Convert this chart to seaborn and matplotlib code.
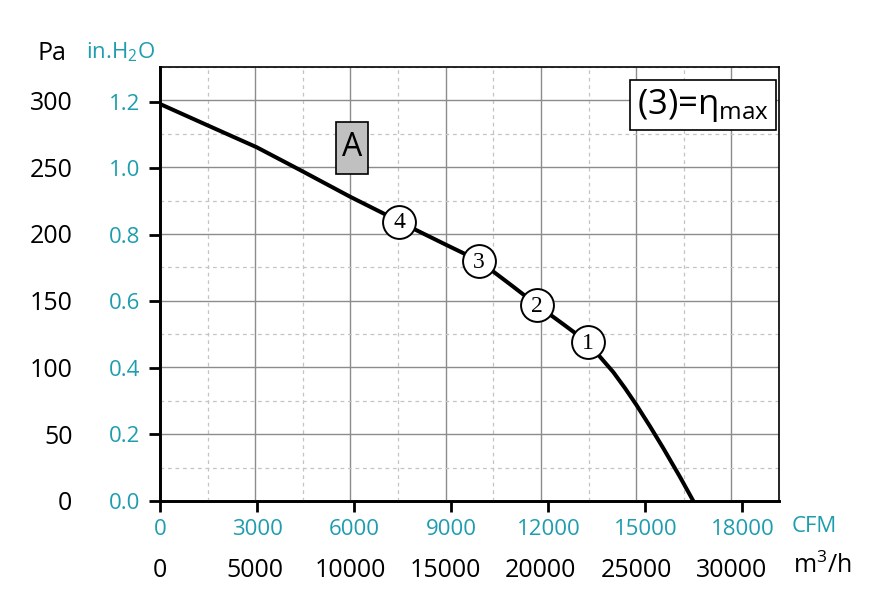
import numpy as np
import pandas as pd
import matplotlib
matplotlib.use("Agg")
import matplotlib.pyplot as plt
import seaborn as sns
from matplotlib.ticker import MultipleLocator
from matplotlib.patches import Rectangle

# ---- data ----
flow_m3h = [0, 2452, 5077, 7350, 9976, 11724, 12550, 15000, 16750, 18500, 19790,
            21200, 22456, 22929, 23800, 24414, 25029, 25727, 26426, 27302, 28000]
pressure_pa = [297.3, 281.6, 264.9, 247.9, 227.9, 215.4, 209.2, 192.0, 179.9, 161.0, 146.8,
               132.1, 118.8, 110.8, 96.5, 84.5, 71.6, 55.9, 39.5, 18.0, 0.0]

op_flow = [22456, 19790, 16750, 12550]
op_pa = [118.8, 146.8, 179.9, 209.2]
op_labels = ["1", "2", "3", "4"]

m3h_ticks = [0, 5000, 10000, 15000, 20000, 25000, 30000]
pa_ticks = [0, 50, 100, 150, 200, 250, 300]
cfm_ticks = [0, 3000, 6000, 9000, 12000, 15000, 18000]
inh2o_ticks = [0.0, 0.2, 0.4, 0.6, 0.8, 1.0, 1.2]

M3H_PER_CFM = 1.699
PA_PER_INH2O = 249.089
TEAL = "#1E9DAF"

sns.set_theme(style="white")
plt.rcParams["font.family"] = ["Open Sans", "DejaVu Sans"]
plt.rcParams["mathtext.fontset"] = "custom"
plt.rcParams["mathtext.rm"] = "Open Sans"
plt.rcParams["mathtext.it"] = "Open Sans:italic"
plt.rcParams["mathtext.bf"] = "Open Sans:bold"

fig = plt.figure(figsize=(8.95, 5.99), dpi=100)
ax = fig.add_axes([160/895, 98/599, 619/895, 434/599])

df = pd.DataFrame({"flow": flow_m3h, "pa": pressure_pa})
sns.lineplot(data=df, x="flow", y="pa", ax=ax, color="black", lw=2.9,
             sort=False, zorder=4)
ops = pd.DataFrame({"flow": op_flow, "pa": op_pa})
sns.scatterplot(data=ops, x="flow", y="pa", ax=ax, s=560, color="white",
                edgecolor="black", linewidth=1.4, zorder=5)
for fx, py, lab in zip(op_flow, op_pa, op_labels):
    ax.text(fx, py - 1.0, lab, ha="center", va="center", fontsize=17,
            family="Liberation Serif", color="black", zorder=6)

ax.set_xlim(0, 32500)
ax.set_ylim(0, 325)
ax.set_xlabel("")
ax.set_ylabel("")

# grid from main axes ticks
ax.xaxis.set_major_locator(MultipleLocator(5000))
ax.xaxis.set_minor_locator(MultipleLocator(2500))
ax.yaxis.set_major_locator(MultipleLocator(50))
ax.yaxis.set_minor_locator(MultipleLocator(25))
ax.grid(which="major", color="#8c8c8c", lw=1.0, ls="-")
ax.grid(which="minor", color="#c4c4c4", lw=0.9, ls=(0, (3, 3)))
ax.set_axisbelow(True)

ax.set_xticks(m3h_ticks)
ax.set_xticklabels([str(v) for v in m3h_ticks])
ax.set_yticks(pa_ticks)
ax.set_yticklabels([str(v) for v in pa_ticks])
ax.tick_params(axis="x", which="both", length=0, pad=41, labelsize=18, labelcolor="black")
ax.tick_params(axis="y", which="both", length=0, pad=63, labelsize=18, labelcolor="black")

for s in ["top", "right"]:
    ax.spines[s].set_linewidth(1.2)
    ax.spines[s].set_color("black")
for s in ["left", "bottom"]:
    ax.spines[s].set_linewidth(2.0)
    ax.spines[s].set_color("black")

# secondary axes: CFM and in.H2O
secx = ax.secondary_xaxis("bottom", functions=(lambda v: v / M3H_PER_CFM,
                                                 lambda v: v * M3H_PER_CFM))
secx.set_xticks(cfm_ticks)
secx.set_xticklabels([str(v) for v in cfm_ticks])
secx.tick_params(axis="x", length=8, width=2, direction="out", pad=5,
                 labelsize=16, labelcolor=TEAL, color="black")
secx.spines["bottom"].set_linewidth(2.0)

secy = ax.secondary_yaxis("left", functions=(lambda v: v / PA_PER_INH2O,
                                               lambda v: v * PA_PER_INH2O))
secy.set_yticks(inh2o_ticks)
secy.set_yticklabels([f"{v:.1f}" for v in inh2o_ticks])
secy.tick_params(axis="y", length=8, width=2, direction="out", pad=6,
                 labelsize=16, labelcolor=TEAL, color="black")
secy.spines["left"].set_linewidth(2.0)

# unit labels
fig.text(52/895, 1 - 53/599, "Pa", ha="center", va="center", fontsize=18, color="black")
fig.text(121/895, 1 - 52/599, r"in.H$_2$O", ha="center", va="center", fontsize=16, color=TEAL)
fig.text(792/895, 1 - 526/599, "CFM", ha="left", va="center", fontsize=16, color=TEAL)
fig.text(793/895, 1 - 566/599, r"m$^3$/h", ha="left", va="center", fontsize=18, color="black")

# annotations
ax.add_patch(Rectangle(((335.7-160)/619, (501-174)/434), 32/619, 51.7/434,
                       transform=ax.transAxes, fc="#c0c0c0", ec="black", lw=1.2, zorder=6))
ax.text((351.7-160)/619, (501-148)/434, "A", transform=ax.transAxes, ha="center", va="center",
        fontsize=23, color="black", zorder=7)
ax.text((703-160)/619, (501-105)/434, r"(3)=$\mathrm{η}_{\mathrm{max}}$", transform=ax.transAxes,
        ha="center", va="center", fontsize=25, color="black", zorder=6,
        bbox=dict(boxstyle="square,pad=0.2", fc="white", ec="black", lw=1.2))

fig.savefig("out.png", dpi=100)
